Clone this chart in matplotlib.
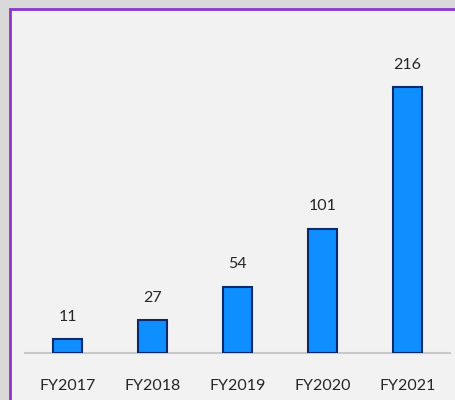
import numpy as np
import matplotlib
matplotlib.use('Agg')
import matplotlib.pyplot as plt
from matplotlib.patches import Rectangle

# Chart data
years = ['FY2017', 'FY2018', 'FY2019', 'FY2020', 'FY2021']
values = [11, 27, 54, 101, 216]

plt.rcParams['font.family'] = ['Lato', 'DejaVu Sans']

fig = plt.figure(figsize=(4.56, 4.00), dpi=100)
fig.patch.set_facecolor('#d9d9d9')

# chart area panel with purple border (cropped at right/bottom)
panel = Rectangle((10 / 456, -0.05), 1.1, 1 - 9 / 400 + 0.05, transform=fig.transFigure,
                  facecolor='#f2f2f2', edgecolor='#8e35c8', linewidth=2, zorder=-10)
fig.patches.append(panel)

ax = fig.add_axes([25 / 456, 47 / 400, 425 / 456, 328 / 400])
ax.patch.set_alpha(0)

x = np.arange(len(years))
bars = ax.bar(x, values, width=0.33, color='#0f8fff', edgecolor='#0c2a6a', linewidth=1.5, zorder=3)

for rect, v in zip(bars, values):
    ax.annotate(str(v), (rect.get_x() + rect.get_width() / 2, rect.get_height()),
                xytext=(0, 11), textcoords='offset points', ha='center', va='bottom',
                fontsize=11.5, color='#262626')

ax.set_xlim(-0.5, len(years) - 0.5)
ax.set_ylim(0, 328 / 1.23)
ax.set_xticks(x)
ax.set_xticklabels(years, fontsize=11.5, color='#262626')
ax.tick_params(axis='x', length=0, pad=18.5)
ax.set_yticks([])
for side in ['top', 'right', 'left']:
    ax.spines[side].set_visible(False)
ax.spines['bottom'].set_color('#c8c8c8')
ax.spines['bottom'].set_linewidth(1.5)

fig.savefig('out.png', dpi=100, facecolor=fig.get_facecolor())
